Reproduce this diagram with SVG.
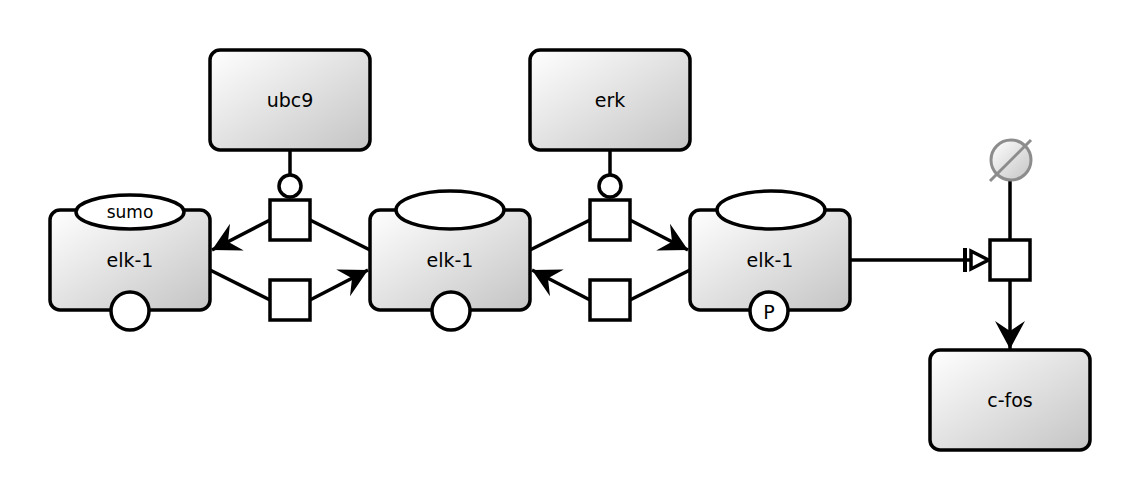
<svg xmlns="http://www.w3.org/2000/svg" width="1140" height="500" viewBox="0 0 1140 500">
<defs>
  <linearGradient id="g" x1="0" y1="0" x2="1" y2="1">
    <stop offset="0" stop-color="#ffffff"/>
    <stop offset="1" stop-color="#c4c4c4"/>
  </linearGradient>
  <marker id="prod" markerUnits="userSpaceOnUse" markerWidth="40" markerHeight="40" viewBox="-30 -20 40 40" refX="0" refY="0" orient="auto">
    <path d="M0,0 L-28,-15 L-18,0 L-28,15 Z" fill="#000"/>
  </marker>
  <marker id="nstim" markerUnits="userSpaceOnUse" markerWidth="40" markerHeight="40" viewBox="-30 -20 40 40" refX="0" refY="0" orient="auto">
    <path d="M-1.5,0 L-19,-9 L-19,9 Z" fill="#fff" stroke="#000" stroke-width="3.5"/>
    <line x1="-25" y1="-12" x2="-25" y2="12" stroke="#000" stroke-width="4"/>
  </marker>
</defs>
<style>
  .ent { fill: url(#g); stroke: #000; stroke-width: 3.5; }
  .sv { fill: #fff; stroke: #000; stroke-width: 3.5; }
  .proc { fill: #fff; stroke: #000; stroke-width: 3.5; }
  .arc { fill: none; stroke: #000; stroke-width: 3.5; }
  .lbl { font-family: "DejaVu Sans", Verdana, sans-serif; font-size: 19px; fill: #000; text-anchor: middle; dominant-baseline: central; }
  .small { font-size: 17px; }
</style>
<rect width="1140" height="500" fill="#fff"/>

<g id="connectors">
  <line class="arc" x1="310" y1="220" x2="370" y2="250"/>
  <line class="arc" x1="270" y1="220" x2="212" y2="250" marker-end="url(#prod)"/>
  <line class="arc" x1="210" y1="270" x2="270" y2="300"/>
  <line class="arc" x1="310" y1="300" x2="368" y2="270" marker-end="url(#prod)"/>
  <line class="arc" x1="290" y1="150" x2="290" y2="175"/>
  <line class="arc" x1="530" y1="250" x2="590" y2="220"/>
  <line class="arc" x1="630" y1="220" x2="688" y2="250" marker-end="url(#prod)"/>
  <line class="arc" x1="690" y1="270" x2="630" y2="300"/>
  <line class="arc" x1="590" y1="300" x2="532" y2="270" marker-end="url(#prod)"/>
  <line class="arc" x1="610" y1="150" x2="610" y2="175"/>
  <line class="arc" x1="850" y1="260" x2="990" y2="260" marker-end="url(#nstim)"/>
  <line class="arc" x1="1010" y1="180" x2="1010" y2="240"/>
  <line class="arc" x1="1010" y1="280" x2="1010" y2="349" marker-end="url(#prod)"/>
  <circle class="sv" cx="290" cy="186" r="11"/>
  <circle class="sv" cx="610" cy="186" r="11"/>
</g>

<g id="p1"><rect class="proc" x="270" y="200" width="40" height="40"/></g>
<g id="p2"><rect class="proc" x="270" y="280" width="40" height="40"/></g>
<g id="p3"><rect class="proc" x="590" y="200" width="40" height="40"/></g>
<g id="p4"><rect class="proc" x="590" y="280" width="40" height="40"/></g>
<g id="p5"><rect class="proc" x="990" y="240" width="40" height="40"/></g>

<g id="ubc9">
  <rect class="ent" x="210" y="50" width="160" height="100" rx="10"/>
  <text class="lbl" x="290" y="100">ubc9</text>
</g>
<g id="erk">
  <rect class="ent" x="530" y="50" width="160" height="100" rx="10"/>
  <text class="lbl" x="610" y="100">erk</text>
</g>

<g id="elk1_sumo">
  <rect class="ent" x="50" y="210" width="160" height="100" rx="10"/>
  <ellipse class="sv" cx="130" cy="212" rx="54" ry="17"/>
  <text class="lbl small" x="130" y="212">sumo</text>
  <circle class="sv" cx="130" cy="311" r="19"/>
  <text class="lbl" x="130" y="260">elk-1</text>
</g>
<g id="elk1">
  <rect class="ent" x="370" y="210" width="160" height="100" rx="10"/>
  <ellipse class="sv" cx="450" cy="210" rx="54" ry="19"/>
  <circle class="sv" cx="451" cy="311" r="19"/>
  <text class="lbl" x="450" y="260">elk-1</text>
</g>
<g id="elk1_p">
  <rect class="ent" x="690" y="210" width="160" height="100" rx="10"/>
  <ellipse class="sv" cx="771" cy="210" rx="54" ry="19"/>
  <circle class="sv" cx="769" cy="311" r="19"/>
  <text class="lbl" x="769" y="312">P</text>
  <text class="lbl" x="770" y="260">elk-1</text>
</g>

<g id="emptyset">
  <circle cx="1011" cy="160" r="20" fill="url(#g)" stroke="#8c8c8c" stroke-width="3"/>
  <line x1="990" y1="181" x2="1031" y2="140" stroke="#8c8c8c" stroke-width="3"/>
</g>

<g id="cfos">
  <rect class="ent" x="930" y="350" width="160" height="100" rx="10"/>
  <text class="lbl" x="1010" y="400">c-fos</text>
</g>
</svg>
